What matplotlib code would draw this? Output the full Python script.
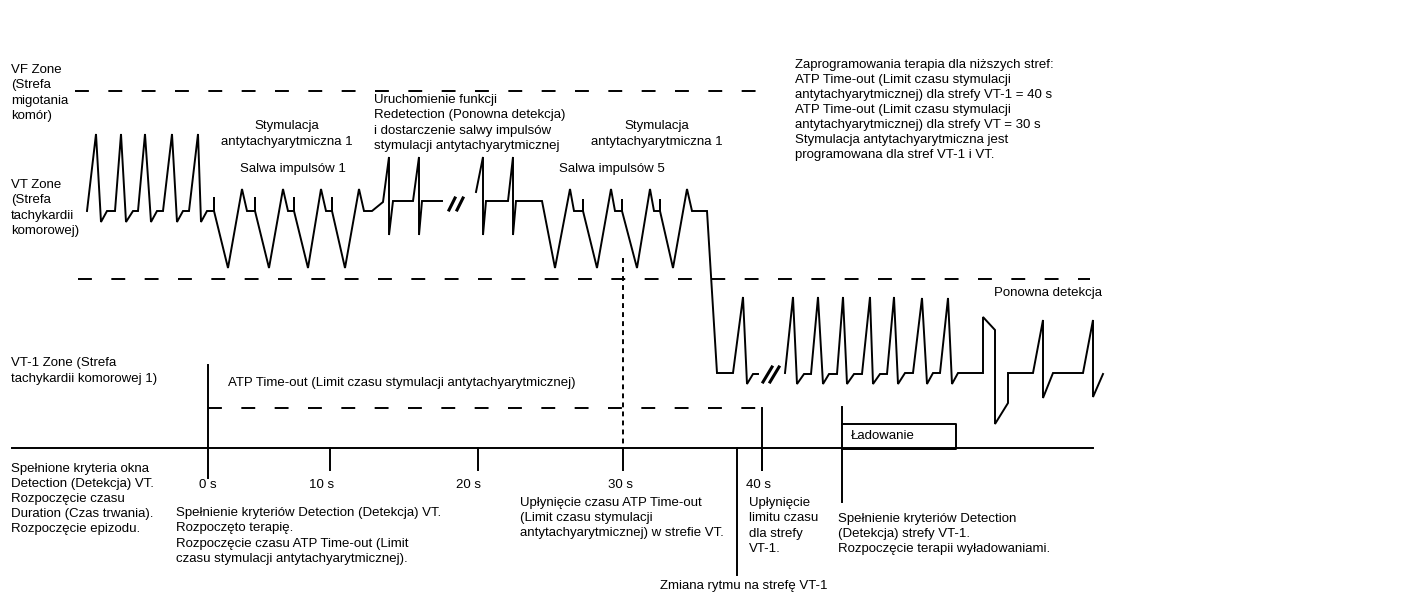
import matplotlib.pyplot as plt

plt.rcParams['font.family'] = ['Liberation Sans', 'DejaVu Sans']
plt.rcParams['lines.scale_dashes'] = False

# rhythm trace (diagram units: x to the right, y downward), split at the "//" breaks
trace1_x = [87, 96, 101, 107, 115, 121, 126, 133, 138, 145, 151, 157, 163, 172, 177, 183, 189,
            198, 201, 207, 214, 214, 214, 228, 242, 247, 255, 255, 255, 269, 283, 288, 294, 294, 294,
            308, 321, 326, 332, 332, 332, 345, 359, 364, 372, 383, 389, 389, 393, 413, 419, 419, 422, 442]
trace1_y = [211, 134, 222, 211, 211, 134, 222, 211, 211, 134, 222, 211, 211, 134, 222, 211, 211,
            134, 222, 211, 211, 197, 211, 268, 189, 211, 211, 197, 211, 268, 189, 211, 211, 197, 211,
            268, 189, 211, 211, 197, 211, 268, 189, 211, 211, 202, 157, 235, 201, 201, 157, 235, 201, 201]

trace2_x = [476, 483, 483, 486, 508, 513, 513, 516, 542, 555, 570, 574, 583, 583, 583, 597, 611, 615,
            622, 622, 622, 637, 650, 654, 660, 660, 660, 673, 687, 692, 707, 717, 733, 743, 747, 753, 758]
trace2_y = [192, 157, 235, 201, 201, 157, 235, 201, 201, 268, 189, 211, 211, 199, 211, 268, 189, 211,
            211, 199, 211, 268, 189, 211, 211, 199, 211, 268, 189, 211, 211, 373, 373, 297, 384, 374, 374]

trace3_x = [785, 793, 797, 804, 811, 818, 823, 829, 837, 843, 847, 854, 862, 870, 873, 880, 887, 894,
            898, 905, 913, 922, 927, 933, 940, 948, 952, 958, 983, 983, 995, 995, 1008, 1008, 1033,
            1043, 1043, 1053, 1083, 1093, 1093, 1103]
trace3_y = [373, 297, 384, 374, 374, 297, 384, 374, 374, 297, 384, 374, 374, 297, 384, 374, 374, 297,
            384, 373, 373, 298, 384, 373, 373, 298, 384, 373, 373, 317, 330, 424, 403, 373, 373,
            320, 398, 373, 373, 320, 397, 374]

# break marks "//"
breaks_x = [(449, 455), (457, 463), (763, 772), (770, 779)]
breaks_y = [(210, 198), (210, 198), (382, 367), (382, 367)]

# zone boundaries and time-line
vf_line = (91, 75, 762)
vt_line = (279, 78, 1090)
atp_line = (408, 208, 762)
axis_line = (448, 12, 1093)

tick_labels = ["0 s", "10 s", "20 s", "30 s", "40 s"]
tick_pos = [208, 330, 478, 623, 762]
tick_label_pos = [208, 322, 469, 620, 758]

fig = plt.figure(figsize=(14.13, 5.99), dpi=100)
ax = fig.add_axes([0, 0, 1, 1])
ax.set_xlim(0, 1413)
ax.set_ylim(599, 0)
ax.axis('off')

lw = 1.4
for xs, ys in [(trace1_x, trace1_y), (trace2_x, trace2_y), (trace3_x, trace3_y)]:
    ax.plot(xs, ys, color='black', lw=lw, solid_joinstyle='miter')
for bx, by in zip(breaks_x, breaks_y):
    ax.plot(bx, by, color='black', lw=2.2)

dash = (0, (10, 14))
for y, x0, x1 in [vf_line, vt_line, atp_line]:
    ax.plot([x0, x1], [y, y], color='black', lw=lw, linestyle=dash)
ax.plot([axis_line[1], axis_line[2]], [axis_line[0], axis_line[0]], color='black', lw=lw)

# vertical markers
ax.plot([208, 208], [365, 478], color='black', lw=lw)
for t in tick_pos[1:]:
    ax.plot([t, t], [448, 470], color='black', lw=lw)
ax.plot([623, 623], [258, 448], color='black', lw=lw, linestyle=(0, (3.5, 3)))
ax.plot([762, 762], [408, 470], color='black', lw=lw)
ax.plot([737, 737], [448, 575], color='black', lw=lw)
ax.plot([842, 842], [407, 502], color='black', lw=lw)
ax.plot([842, 956, 956, 842], [424, 424, 449, 449], color='black', lw=lw)

fs = 9.5
for lab, x in zip(tick_labels, tick_label_pos):
    ax.text(x, 485, lab, ha='center', va='center', fontsize=fs)

texts = [
    (11, 93, "VF Zone\n(Strefa\nmigotania\nkomór)", 'left'),
    (11, 208, "VT Zone\n(Strefa\ntachykardii\nkomorowej)", 'left'),
    (11, 371, "VT-1 Zone (Strefa\ntachykardii komorowej 1)", 'left'),
    (11, 499, "Spełnione kryteria okna\nDetection (Detekcja) VT.\nRozpoczęcie czasu\nDuration (Czas trwania).\nRozpoczęcie epizodu.", 'left'),
    (176, 536, "Spełnienie kryteriów Detection (Detekcja) VT.\nRozpoczęto terapię.\nRozpoczęcie czasu ATP Time-out (Limit\nczasu stymulacji antytachyarytmicznej).", 'left'),
    (228, 383, "ATP Time-out (Limit czasu stymulacji antytachyarytmicznej)", 'left'),
    (520, 518, "Upłynięcie czasu ATP Time-out\n(Limit czasu stymulacji\nantytachyarytmicznej) w strefie VT.", 'left'),
    (749, 526, "Upłynięcie\nlimitu czasu\ndla strefy\nVT-1.", 'left'),
    (660, 586, "Zmiana rytmu na strefę VT-1", 'left'),
    (838, 534, "Spełnienie kryteriów Detection\n(Detekcja) strefy VT-1.\nRozpoczęcie terapii wyładowaniami.", 'left'),
    (851, 436, "Ładowanie", 'left'),
    (994, 293, "Ponowna detekcja", 'left'),
    (795, 110, "Zaprogramowania terapia dla niższych stref:\nATP Time-out (Limit czasu stymulacji\nantytachyarytmicznej) dla strefy VT-1 = 40 s\nATP Time-out (Limit czasu stymulacji\nantytachyarytmicznej) dla strefy VT = 30 s\nStymulacja antytachyarytmiczna jest\nprogramowana dla stref VT-1 i VT.", 'left'),
    (287, 134, "Stymulacja\nantytachyarytmiczna 1", 'center'),
    (293, 169, "Salwa impulsów 1", 'center'),
    (374, 123, "Uruchomienie funkcji\nRedetection (Ponowna detekcja)\ni dostarczenie salwy impulsów\nstymulacji antytachyarytmicznej", 'left'),
    (657, 134, "Stymulacja\nantytachyarytmiczna 1", 'center'),
    (612, 169, "Salwa impulsów 5", 'center'),
]
for x, y, s, ha in texts:
    ax.text(x, y, s, ha=ha, va='center', fontsize=fs, multialignment=ha, linespacing=1.35)

fig.savefig("out.png", dpi=100)
